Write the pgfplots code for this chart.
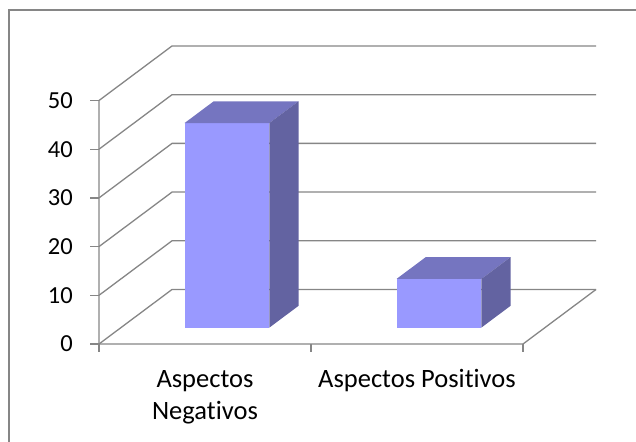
\documentclass[border=0pt]{standalone}
\usepackage{fontspec}
\setmainfont{Carlito}[Ligatures=NoCommon]
\usepackage{pgfplots}
\pgfplotsset{compat=1.18}
\usetikzlibrary{calc}

\definecolor{barfront}{RGB}{153,153,255}
\definecolor{bartop}{RGB}{117,117,192}
\definecolor{barside}{RGB}{99,99,161}
\definecolor{gridgray}{RGB}{134,134,134}

% One 3D column: left edge, right edge, value
\newcommand\cuboid[3]{%
  \addplot3[fill=barfront, draw=none, no marks]
    coordinates {(#1,0.3,0) (#2,0.3,0) (#2,0.3,#3) (#1,0.3,#3)};
  \addplot3[fill=bartop, draw=none, no marks]
    coordinates {(#1,0.3,#3) (#2,0.3,#3) (#2,0.7,#3) (#1,0.7,#3)};
  \addplot3[fill=barside, draw=none, no marks]
    coordinates {(#2,0.3,0) (#2,0.7,0) (#2,0.7,#3) (#2,0.3,#3)};
}

\begin{document}
\begin{tikzpicture}[font=\fontsize{26.5}{32}\selectfont]
\begin{axis}[
  x={(212pt,0pt)}, y={(73pt,54.5pt)}, z={(0pt,4.87pt)},
  xmin=0, xmax=2, ymin=0, ymax=1, zmin=0, zmax=50,
  hide axis, clip=false,
]
% side wall diagonals and back wall gridlines
\pgfplotsinvokeforeach{0,10,20,30,40,50}{
  \draw[gridgray, line width=1.3pt] (axis cs:0,0,#1) -- (axis cs:0,1,#1) -- (axis cs:2,1,#1);
  \draw[gridgray, line width=1.3pt] (axis cs:0,0,#1) -- ++(-8.5pt,0pt);
  \node[anchor=east, inner sep=0pt, font=\fontsize{24.5}{28}\selectfont]
    at ($(axis cs:0,0,#1)+(-26pt,0pt)$) {#1};
}
% floor edges and value axis
\draw[gridgray, line width=1.3pt] (axis cs:0,0,50) -- (axis cs:0,0,0) -- (axis cs:2,0,0) -- (axis cs:2,1,0);
\pgfplotsinvokeforeach{0,1,2}{
  \draw[gridgray, line width=1.3pt] (axis cs:#1,0,0) -- ++(0pt,-7.5pt);
}
\cuboid{0.3}{0.7}{42}
\cuboid{1.3}{1.7}{10}
\node[anchor=base, align=center, inner sep=0pt] at ($(axis cs:0.5,0,0)+(0pt,-75.3pt)$) {Aspectos\\Negativos};
\node[anchor=base, inner sep=0pt] at ($(axis cs:1.5,0,0)+(0pt,-43.3pt)$) {Aspectos Positivos};
\coordinate (O) at (axis cs:0,0,0);
\end{axis}
\pgfresetboundingbox
\path[use as bounding box] ($(O)+(-99pt,344pt)$) rectangle ($(O)+(537pt,-97pt)$);
\draw[gridgray, line width=2pt] ($(O)+(-89.5pt,-110pt)$) |- ($(O)+(545pt,334pt)$);
\end{tikzpicture}
\end{document}
